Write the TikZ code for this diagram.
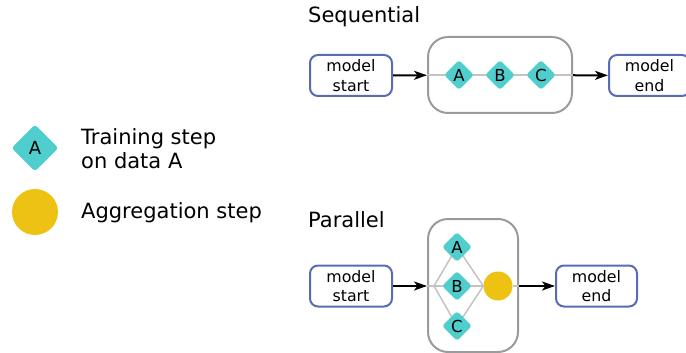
\documentclass[tikz,border=0pt]{standalone}
\usepackage{fontspec}
\setmainfont{DejaVu Sans}
\usetikzlibrary{shapes.geometric,arrows.meta}
\definecolor{stepteal}{RGB}{80,205,205}
\definecolor{agggold}{RGB}{238,194,18}
\definecolor{modelblue}{RGB}{88,108,182}
\definecolor{groupgrey}{RGB}{155,155,155}
\definecolor{linkgrey}{RGB}{195,195,195}

\begin{document}
\begin{tikzpicture}[x=1pt,y=-1pt,
		modelbox/.style={draw=modelblue, line width=2pt, rounded corners=8pt, minimum width=82pt, minimum height=41pt, align=center, inner sep=0pt, font=\fontsize{15.8}{19.5}\selectfont},
		groupbox/.style={draw=groupgrey, line width=2pt, rounded corners=20pt, inner sep=0pt},
		trainstep/.style={diamond, fill=stepteal, rounded corners=3pt, minimum size=30pt, inner sep=0pt, font=\fontsize{16.5}{16.5}\selectfont},
		aggstep/.style={circle, fill=agggold, minimum size=29pt, inner sep=0pt},
		flow/.style={-{Stealth[length=13pt,width=9pt,inset=3.5pt]}, line width=2pt},
		link/.style={draw=linkgrey, line width=1.5pt},
		title/.style={anchor=base west, inner sep=0pt, font=\fontsize{21}{24}\selectfont}]
	\useasboundingbox (0,0) rectangle (686,353);
	% legend
	\node [trainstep, minimum size=47pt, font=\fontsize{18}{18}\selectfont] (keytrain) at (35,148) {A};
	\node [title, anchor=west, align=left] (keytraintext) at (81,149) {Training step\\on data A};
	\node [aggstep, minimum size=46pt] (keyagg) at (35,212) {};
	\node [title] (keyaggtext) at (81,218) {Aggregation step};
	% sequential
	\node [title] (seqtitle) at (308,23) {Sequential};
	\node [modelbox] (seqstart) at (351,75.5) {model\\start};
	\node [groupbox, minimum width=144pt, minimum height=76pt] (seqgroup) at (500,75) {};
	\node [modelbox, minimum width=81pt] (seqend) at (649.5,75.5) {model\\end};
	\draw [link] (seqgroup.west) -- (seqgroup.east);
	\foreach \name/\x in {A/459, B/500, C/541} {
		\node [trainstep] (seq\name) at (\x,75) {\name};
	};
	\draw [flow] (seqstart) -- (seqgroup);
	\draw [flow] (seqgroup) -- (seqend);
	% parallel
	\node [title] (partitle) at (308,227) {Parallel};
	\node [modelbox] (parstart) at (351,286) {model\\start};
	\node [groupbox, minimum width=90pt, minimum height=133pt] (pargroup) at (473,285.5) {};
	\node [modelbox, minimum width=81pt] (parend) at (596.5,286) {model\\end};
	\coordinate (split) at (434,286);
	\node [aggstep] (paragg) at (498,286) {};
	\draw [link] (pargroup.west |- split) -- (split);
	\draw [link] (paragg.east) -- (pargroup.east |- paragg);
	\foreach \name/\y in {A/247, B/286, C/326} {
		\draw [link] (split) -- (457,\y) -- (paragg.west);
		\node [trainstep] (par\name) at (457,\y) {\name};
	};
	\draw [flow] (parstart) -- (parstart -| pargroup.west);
	\draw [flow] (paragg -| pargroup.east) -- (parend);
\end{tikzpicture}
\end{document}
